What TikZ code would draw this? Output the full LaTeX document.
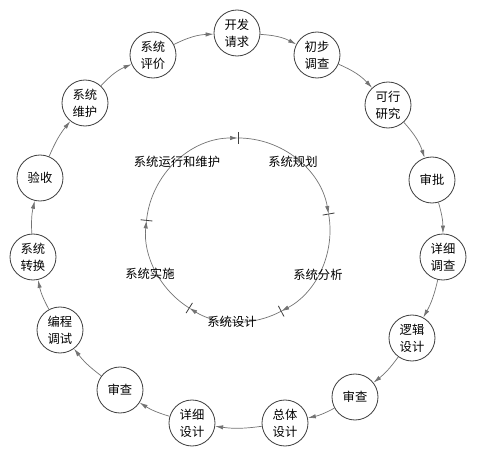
\documentclass[tikz,border=0pt]{standalone}
\usepackage{fontspec}
\setmainfont{Noto Sans CJK SC}
\usepackage{tikz}
\usetikzlibrary{positioning, arrows.meta}

\begin{document}
\begin{tikzpicture}[
    x=0.03cm, y=0.03cm,
    stage/.style={circle, draw=black!75, line width=0.7pt, minimum size=1.38cm, inner sep=0pt, align=center, font=\fontsize{10.5}{14.5}\selectfont},
    flow/.style={-{Latex[length=2.4mm, width=1.3mm]}, draw=black!55, line width=0.6pt},
    phase/.style={font=\fontsize{10.5}{13}\selectfont},
    divider/.style={draw=black!75, line width=0.7pt}
]
    \useasboundingbox (0,0) rectangle (490,467);

    % Outer ring
    \node[stage] (kfqq) at (237,434) {开发\\请求};
    \node[stage] (cbdc) at (317,412) {初步\\调查};
    \node[stage] (kxyj) at (388,362) {可行\\研究};
    \node[stage] (sp) at (432,287) {审批};
    \node[stage] (xxdc) at (443,210) {详细\\调查};
    \node[stage] (ljsj) at (412,129) {逻辑\\设计};
    \node[stage] (scr) at (355,70) {审查};
    \node[stage] (ztsj) at (285,44) {总体\\设计};
    \node[stage] (xxsj) at (192,44) {详细\\设计};
    \node[stage] (scl) at (120,77) {审查};
    \node[stage] (bcts) at (60,137) {编程\\调试};
    \node[stage] (xtzh) at (33,210) {系统\\转换};
    \node[stage] (ys) at (40,289) {验收};
    \node[stage] (xtwh) at (85,364) {系统\\维护};
    \node[stage] (xtpj) at (153,412) {系统\\评价};

    % Outer arrows
    \draw[flow] (xtpj) to[bend left=12] (kfqq);
    \draw[flow] (kfqq) to[bend left=12] (cbdc);
    \draw[flow] (cbdc) to[bend left=12] (kxyj);
    \draw[flow] (kxyj) to[bend left=12] (sp);
    \draw[flow] (sp) to[bend left=8] (xxdc);
    \draw[flow] (xxdc) to[bend left=8] (ljsj);
    \draw[flow] (ljsj) to[bend left=8] (scr);
    \draw[flow] (scr) to[bend left=8] (ztsj);
    \draw[flow] (ztsj) to[bend left=8] (xxsj);
    \draw[flow] (xxsj) to[bend left=8] (scl);
    \draw[flow] (scl) to[bend left=8] (bcts);
    \draw[flow] (bcts) to[bend left=8] (xtzh);
    \draw[flow] (xtzh) to[bend left=8] (ys);
    \draw[flow] (ys) to[bend left=8] (xtwh);
    \draw[flow] (xtwh) to[bend left=12] (xtpj);

    % Inner cycle
    \coordinate (hub) at (238,237);
    \draw[flow] (hub) ++(90:92) arc[start angle=90, end angle=10, radius=2.76cm];
    \draw[flow] (hub) ++(10:92) arc[start angle=10, end angle=-62, radius=2.76cm];
    \draw[flow] (hub) ++(-62:92) arc[start angle=-62, end angle=-122, radius=2.76cm];
    \draw[flow] (hub) ++(-122:92) arc[start angle=-122, end angle=-186, radius=2.76cm];
    \draw[flow] (hub) ++(174:92) arc[start angle=174, end angle=90, radius=2.76cm];

    \draw[divider] (hub) ++(90:86) -- ++(90:12);
    \draw[divider] (hub) ++(10:86) -- ++(10:12);
    \draw[divider] (hub) ++(-62:86) -- ++(-62:12);
    \draw[divider] (hub) ++(-122:86) -- ++(-122:12);
    \draw[divider] (hub) ++(174:86) -- ++(174:12);

    % Phases
    \node[phase] (gh) at (293,305) {系统规划};
    \node[phase] (fx) at (318,192) {系统分析};
    \node[phase] (sj) at (232,145) {系统设计};
    \node[phase] (ss) at (150,193) {系统实施};
    \node[phase] (yx) at (177,305) {系统运行和维护};
\end{tikzpicture}
\end{document}
